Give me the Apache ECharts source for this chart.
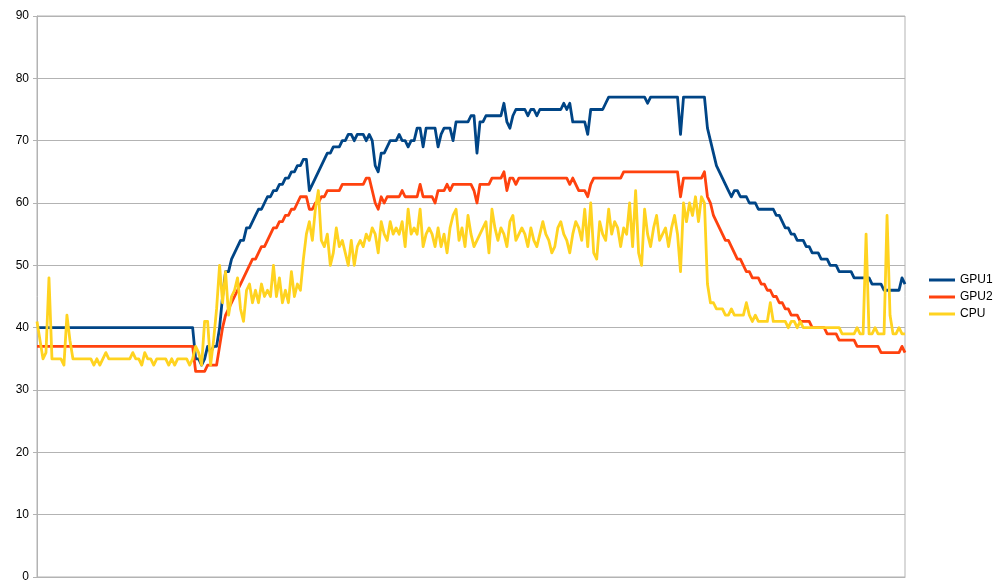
<!DOCTYPE html>
<html>
<head>
<meta charset="utf-8">
<script src="https://cdn.jsdelivr.net/npm/echarts@6/dist/echarts.min.js"></script>
<style>html,body{margin:0;padding:0;background:#fff;}#c{width:1000px;height:588px;}</style>
</head>
<body>
<div id="c"></div>
<script>
var seriesNames = ['GPU1', 'GPU2', 'CPU'];
var yTicks = [0, 10, 20, 30, 40, 50, 60, 70, 80, 90];

var gpu1 = [
40,40,40,40,40,40,40,40,40,40, 40,40,40,40,40,40,40,40,40,40,
40,40,40,40,40,40,40,40,40,40, 40,40,40,40,40,40,40,40,40,40,
40,40,40,40,40,40,40,40,40,40, 40,40,40,35,35,34,35,37,36,37,
37,40,45,49,49,51,52,53,54,54, 56,56,57,58,59,59,60,61,61,62,
62,63,63,64,64,65,65,66,66,67, 67,62,63,64,65,66,67,68,68,69,
69,69,70,70,71,71,70,71,71,71, 70,71,70,66,65,68,68,69,70,70,
70,71,70,70,69,70,70,72,72,69, 72,72,72,72,69,71,72,72,72,70,
73,73,73,73,73,74,74,68,73,73, 74,74,74,74,74,74,76,73,72,74,
75,75,75,75,74,75,75,74,75,75, 75,75,75,75,75,75,76,75,76,73,
73,73,73,73,71,75,75,75,75,75, 76,77,77,77,77,77,77,77,77,77,
77,77,77,77,76,77,77,77,77,77, 77,77,77,77,77,71,77,77,77,77,
77,77,77,77,72,70,68,66,65,64, 63,62,61,62,62,61,61,61,60,60,
60,59,59,59,59,59,59,58,58,57, 56,56,55,55,54,54,54,53,53,52,
52,52,51,51,51,50,50,50,49,49, 49,49,49,48,48,48,48,48,48,47,
47,47,47,46,46,46,46,46,46,48, 47
];

var gpu2 = [
37,37,37,37,37,37,37,37,37,37, 37,37,37,37,37,37,37,37,37,37,
37,37,37,37,37,37,37,37,37,37, 37,37,37,37,37,37,37,37,37,37,
37,37,37,37,37,37,37,37,37,37, 37,37,37,33,33,33,33,34,34,34,
34,37,40,42,43,44,45,46,47,48, 49,50,51,51,52,53,53,54,55,56,
56,57,57,58,58,59,59,60,61,61, 61,59,59,60,60,61,61,62,62,62,
62,62,63,63,63,63,63,63,63,63, 64,64,62,60,59,61,60,61,61,61,
61,61,62,61,61,61,61,61,63,61, 61,61,61,60,62,62,62,63,62,63,
63,63,63,63,63,63,62,60,63,63, 63,63,64,64,64,64,65,62,64,64,
63,64,64,64,64,64,64,64,64,64, 64,64,64,64,64,64,64,64,63,64,
63,62,62,62,61,63,64,64,64,64, 64,64,64,64,64,64,65,65,65,65,
65,65,65,65,65,65,65,65,65,65, 65,65,65,65,65,61,64,64,64,64,
64,64,64,65,61,60,58,57,56,55, 54,54,53,52,51,51,50,49,49,48,
48,48,47,47,46,46,45,45,44,44, 43,43,42,42,42,41,41,41,41,40,
40,40,40,40,39,39,39,39,38,38, 38,38,38,38,37,37,37,37,37,37,
37,37,36,36,36,36,36,36,36,37, 36
];

var cpu = [
41,38,35,36,48,35,35,35,35,34, 42,38,35,35,35,35,35,35,35,34,
35,34,35,36,35,35,35,35,35,35, 35,35,36,35,35,34,36,35,35,34,
35,35,35,35,34,35,34,35,35,35, 35,34,35,37,36,34,41,41,34,38,
43,50,44,49,42,45,46,48,43,41, 46,47,44,46,44,47,45,46,45,50,
45,48,44,46,44,49,45,47,46,51, 55,57,54,59,62,54,53,55,50,52,
56,53,54,52,50,54,50,53,54,53, 55,54,56,55,52,57,55,54,57,55,
56,55,57,53,59,55,56,55,59,53, 55,56,55,53,56,53,55,52,56,58,
59,54,56,53,58,55,53,54,55,56, 57,52,59,56,54,56,55,53,57,58,
54,55,56,55,53,56,54,53,55,57, 55,54,52,53,56,57,55,54,52,55,
57,56,54,59,53,60,52,51,57,55, 54,59,55,57,56,53,56,55,60,53,
62,52,50,59,55,53,56,58,54,55, 56,53,56,58,55,49,60,57,60,58,
61,57,61,60,47,44,44,43,43,43, 42,42,43,42,42,42,42,44,42,41,
42,41,41,41,41,44,41,41,41,41, 41,40,41,41,40,41,40,40,40,40,
40,40,40,40,40,40,40,40,40,39, 39,39,39,39,40,39,39,55,39,39,
40,39,39,39,58,42,39,39,40,39, 39
];

var cats = gpu1.map(function (_, i) { return i + 1; });

var chart = echarts.init(document.getElementById('c'), null, { renderer: 'canvas' });
var colors = ['#004586', '#ff420e', '#ffd320'];
var dataSets = [gpu1, gpu2, cpu];

chart.setOption({
  animation: false,
  backgroundColor: '#ffffff',
  color: colors,
  textStyle: { fontFamily: 'Liberation Sans, Arial, sans-serif' },
  grid: {
    left: 37, right: 95, top: 16, bottom: 11,
    show: true, borderColor: '#b3b3b3', borderWidth: 1,
    containLabel: false
  },
  legend: {
    orient: 'vertical',
    left: 924,
    top: 269,
    icon: 'rect',
    itemWidth: 26,
    itemHeight: 3,
    itemGap: 5,
    data: seriesNames,
    textStyle: { fontSize: 12, color: '#000', lineHeight: 12, padding: [0, 0, 0, 0] }
  },
  xAxis: {
    type: 'category',
    data: cats,
    boundaryGap: false,
    axisLine: { show: true, lineStyle: { color: '#b3b3b3', width: 1 } },
    axisTick: { show: false },
    axisLabel: { show: false },
    splitLine: { show: false }
  },
  yAxis: {
    type: 'value',
    min: yTicks[0],
    max: yTicks[yTicks.length - 1],
    interval: 10,
    axisLine: { show: true, lineStyle: { color: '#b3b3b3', width: 1 } },
    axisTick: { show: true, length: 4, lineStyle: { color: '#b3b3b3' } },
    axisLabel: { fontSize: 12, color: '#000', margin: 8 },
    splitLine: { show: true, lineStyle: { color: '#b3b3b3', width: 1 } }
  },
  series: seriesNames.map(function (n, k) {
    return {
      name: n,
      type: 'line',
      data: dataSets[k],
      showSymbol: false,
      symbol: 'none',
      lineStyle: { width: 2.8, color: colors[k], join: 'round' },
      itemStyle: { color: colors[k] },
      z: 2 + k
    };
  })
});
</script>
</body>
</html>
